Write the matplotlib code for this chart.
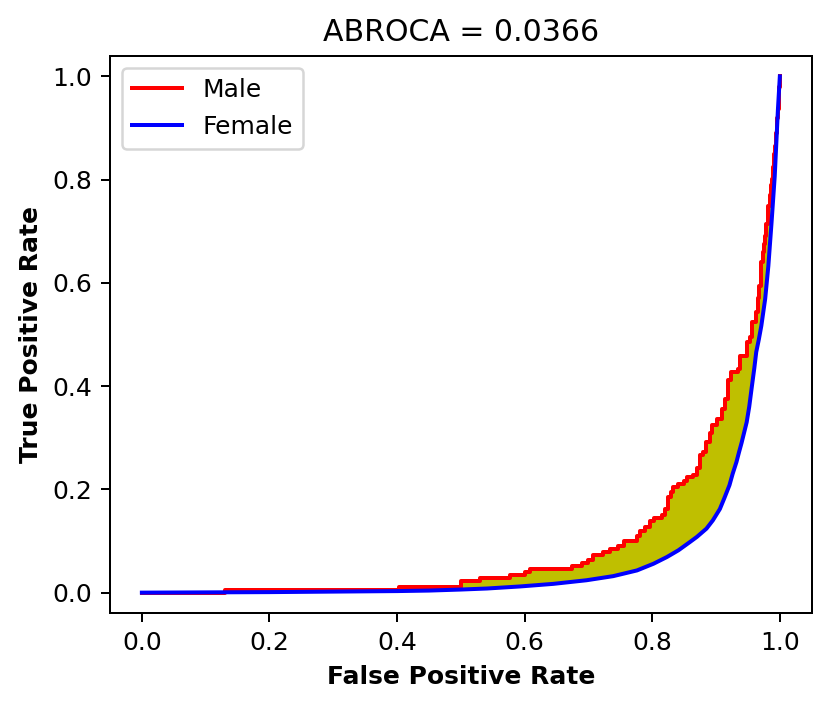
import matplotlib
matplotlib.use("Agg")
import matplotlib.pyplot as plt
import numpy as np

# Male ROC curve (step positions: fpr where the jump happens, tpr after the jump)
fpr_male = [0.0, 0.130, 0.403, 0.500, 0.530, 0.577, 0.601, 0.609, 0.674, 0.690,
            0.700, 0.707, 0.723, 0.734, 0.747, 0.755, 0.776, 0.781, 0.789, 0.797,
            0.802, 0.815, 0.820, 0.825, 0.830, 0.833, 0.841, 0.849, 0.854, 0.864,
            0.870, 0.875, 0.880, 0.885, 0.890, 0.893, 0.901, 0.909, 0.914, 0.919,
            0.924, 0.935, 0.937, 0.948, 0.953, 0.956, 0.963, 0.966, 0.968, 0.970,
            0.971, 0.973, 0.975, 0.977, 0.979, 0.981, 0.982, 0.984, 0.986, 0.987,
            0.989, 0.991, 0.992, 0.994, 0.996, 0.997, 0.998, 0.999, 1.0]
tpr_male = [0.0, 0.006, 0.011, 0.022, 0.028, 0.034, 0.040, 0.045, 0.051, 0.057,
            0.063, 0.072, 0.078, 0.084, 0.091, 0.100, 0.110, 0.119, 0.128, 0.138,
            0.145, 0.151, 0.162, 0.185, 0.195, 0.205, 0.211, 0.217, 0.224, 0.228,
            0.242, 0.266, 0.273, 0.292, 0.310, 0.324, 0.337, 0.356, 0.375, 0.411,
            0.427, 0.433, 0.459, 0.485, 0.495, 0.524, 0.543, 0.570, 0.594, 0.620,
            0.640, 0.660, 0.675, 0.691, 0.715, 0.735, 0.749, 0.770, 0.790, 0.801,
            0.825, 0.850, 0.865, 0.890, 0.920, 0.936, 0.960, 0.980, 1.0]

# Female ROC curve
fpr_female = [0.0, 0.1, 0.2, 0.3, 0.4, 0.45, 0.5, 0.541, 0.593, 0.645, 0.697,
              0.739, 0.776, 0.802, 0.823, 0.841, 0.859, 0.870, 0.885, 0.895,
              0.906, 0.913, 0.921, 0.926, 0.932, 0.936, 0.940, 0.944, 0.948,
              0.952, 0.956, 0.960, 0.963, 0.967, 0.971, 0.977, 0.982, 0.987,
              0.992, 0.997, 1.0]
tpr_female = [0.0, 0.0005, 0.001, 0.002, 0.003, 0.004, 0.006, 0.008, 0.012,
              0.017, 0.024, 0.032, 0.043, 0.056, 0.069, 0.082, 0.098, 0.108,
              0.124, 0.140, 0.162, 0.183, 0.208, 0.230, 0.253, 0.272, 0.290,
              0.310, 0.330, 0.360, 0.398, 0.435, 0.466, 0.490, 0.517, 0.569,
              0.633, 0.717, 0.807, 0.936, 1.0]

abroca = 0.0366

# staircase vertices for the male curve
xm = np.repeat(fpr_male, 2)[1:]
ym = np.repeat(tpr_male, 2)[:-1]

fig = plt.figure(figsize=(830 / 180, 709 / 180), dpi=180)
ax = fig.add_subplot(111)
fig.subplots_adjust(left=0.1325, right=0.978, top=0.9214, bottom=0.135)

ax.fill(np.concatenate([xm, fpr_female[::-1]]),
        np.concatenate([ym, tpr_female[::-1]]),
        color='y', linewidth=0)
ax.plot(xm, ym, color='red', label='Male', linewidth=1.6)
ax.plot(fpr_female, tpr_female, color='blue', label='Female', linewidth=1.6)

ax.set_xlim(-0.05, 1.05)
ax.set_ylim(-0.04, 1.04)
ax.set_title('ABROCA = ' + str(abroca))
ax.set_xlabel('False Positive Rate', fontweight='bold')
ax.set_ylabel('True Positive Rate', fontweight='bold')
ax.legend(loc='upper left')

fig.savefig('out.png', dpi=180)
